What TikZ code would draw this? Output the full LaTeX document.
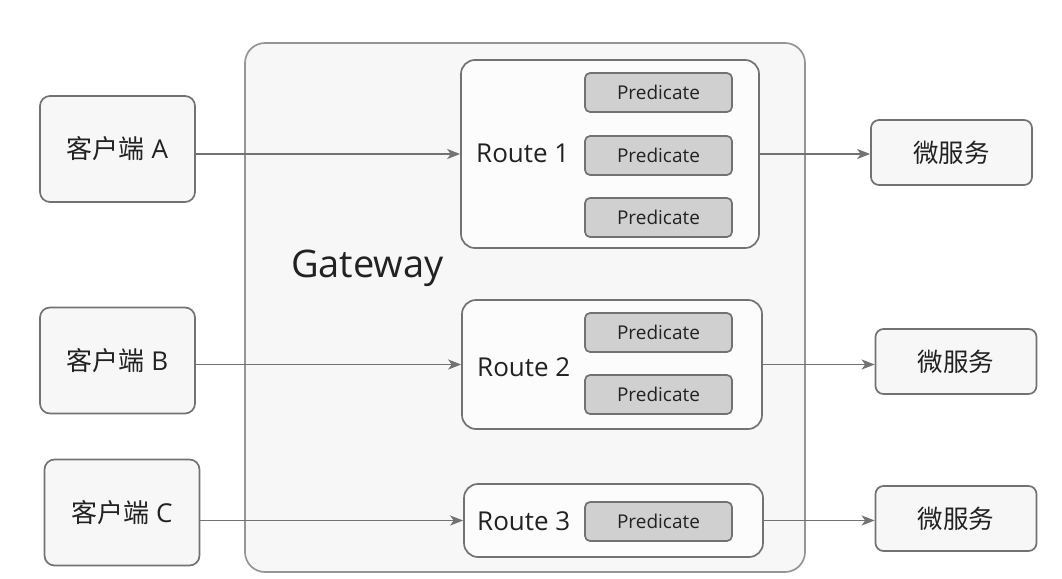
\documentclass[tikz,border=0pt]{standalone}
\usepackage{fontspec}
\setmainfont{Open Sans}
\newfontfamily\cjk{Noto Sans CJK SC}
\usetikzlibrary{arrows.meta}

\definecolor{boxfill}{HTML}{F7F7F7}
\definecolor{predfill}{HTML}{D0D0D0}
\definecolor{edgegray}{HTML}{727272}
\definecolor{txt}{HTML}{222222}

\tikzset{
  box/.style={draw=edgegray, line width=1.7pt, fill=boxfill, rounded corners=10pt,
    text=txt, inner sep=0pt},
  client/.style={box, minimum width=155pt, minimum height=106pt, font=\fontsize{26}{30}\selectfont},
  service/.style={box, rounded corners=8pt, minimum width=161pt, minimum height=65pt,
    font=\cjk\fontsize{25.5}{30}\selectfont},
  route/.style={box, rounded corners=14pt, fill=white!60!boxfill, minimum width=298pt},
  pred/.style={box, fill=predfill, rounded corners=5pt, minimum width=147pt,
    minimum height=39pt, font=\fontsize{19}{22}\selectfont},
  rlabel/.style={anchor=west, text=txt, font=\fontsize{26}{30}\selectfont, inner sep=0pt},
  arr/.style={draw=edgegray, line width=1.8pt, -{Stealth[length=13pt, width=10pt, inset=3.5pt]}},
}

\begin{document}
\begin{tikzpicture}[x=1pt, y=-1pt]
  \useasboundingbox (0,0) rectangle (1062,578);

  % Gateway
  \node[box, draw=edgegray!75, rounded corners=20pt, minimum width=560pt, minimum height=529pt]
    (gw) at (525,307.5) {};
  \node[text=txt, font=\fontsize{38}{44}\selectfont, inner sep=0pt] (gwlabel) at (367.5,268) {Gateway};

  % Clients
  \node[client] (ca) at (117.5,149) {{\cjk 客户端} A};
  \node[client] (cb) at (117.5,360.5) {{\cjk 客户端} B};
  \node[client] (cc) at (122,512.5) {{\cjk 客户端} C};

  % Routes
  \node[route, minimum height=188pt] (r1) at (610,154) {};
  \node[route, minimum width=300pt, minimum height=129pt] (r2) at (612,364.5) {};
  \node[route, minimum width=299pt, minimum height=73pt] (r3) at (613.5,520.5) {};
  \node[rlabel] (r1label) at (476,153) {Route 1};
  \node[rlabel] (r2label) at (477,367) {Route 2};
  \node[rlabel] (r3label) at (477,521) {Route 3};

  % Predicates
  \node[pred] (p11) at (658.5,92.5) {Predicate};
  \node[pred] (p12) at (658.5,155.5) {Predicate};
  \node[pred] (p13) at (658.5,217.5) {Predicate};
  \node[pred] (p21) at (658.5,332.5) {Predicate};
  \node[pred] (p22) at (658.5,394.5) {Predicate};
  \node[pred] (p31) at (658.5,521.5) {Predicate};

  % Services
  \node[service] (s1) at (951.5,152.5) {微服务};
  \node[service] (s2) at (956,361.5) {微服务};
  \node[service] (s3) at (956,518.5) {微服务};

  % Connect the nodes
  \draw[arr] (ca.east |- r1.west) -- (r1.west);
  \draw[arr] (cb.east |- r2.west) -- (r2.west);
  \draw[arr] (cc.east |- r3.west) -- (r3.west);
  \draw[arr] (r1.east) -- (r1.east -| s1.west);
  \draw[arr] (r2.east) -- (r2.east -| s2.west);
  \draw[arr] (r3.east) -- (r3.east -| s3.west);

\end{tikzpicture}
\end{document}
